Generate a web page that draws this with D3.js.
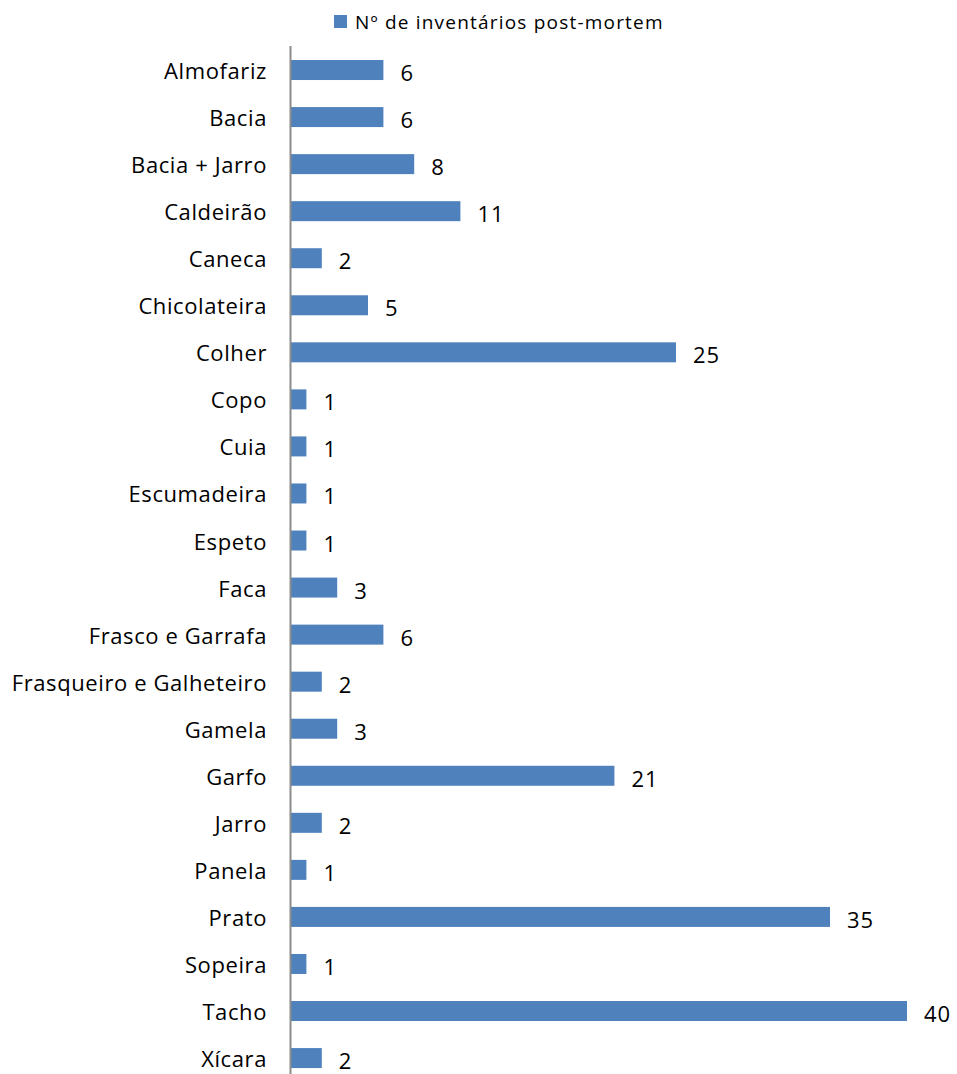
<!DOCTYPE html>
<html>
<head>
<meta charset="utf-8">
<script src="https://cdn.jsdelivr.net/npm/d3@7/dist/d3.min.js"></script>
<style>
  html, body { margin: 0; padding: 0; background: #fff; }
  svg { display: block; }
  text { font-family: "Open Sans", "Noto Sans", sans-serif; fill: #000; }
</style>
</head>
<body>
<svg id="chart" width="957" height="1074"></svg>
<script>
// Utensils recorded in post-mortem inventories
const categories = [
  "Almofariz", "Bacia", "Bacia + Jarro", "Caldeirão", "Caneca", "Chicolateira",
  "Colher", "Copo", "Cuia", "Escumadeira", "Espeto", "Faca", "Frasco e Garrafa",
  "Frasqueiro e Galheteiro", "Gamela", "Garfo", "Jarro", "Panela", "Prato",
  "Sopeira", "Tacho", "Xícara"
];
const counts = [6, 6, 8, 11, 2, 5, 25, 1, 1, 1, 1, 3, 6, 2, 3, 21, 2, 1, 35, 1, 40, 2];
const seriesName = "Nº de inventários post-mortem";
const xMax = 40;

const svg = d3.select("#chart");
const barColor = "#4F81BD";

const x = d3.scaleLinear().domain([0, xMax]).range([291, 907]);
const y = d3.scaleBand()
  .domain(categories)
  .range([46.5, 1081.6])
  .paddingInner(0.575)
  .paddingOuter(0.2875);

// bars
svg.append("g").selectAll("rect")
  .data(categories)
  .join("rect")
  .attr("x", x(0))
  .attr("y", d => y(d))
  .attr("width", (d, i) => x(counts[i]) - x(0))
  .attr("height", y.bandwidth())
  .attr("fill", barColor);

// value labels
svg.append("g").selectAll("text")
  .data(categories)
  .join("text")
  .attr("x", (d, i) => x(counts[i]) + 17)
  .attr("y", d => y(d) + y.bandwidth() / 2 + 11)
  .attr("font-size", 22)
  .attr("letter-spacing", 1)
  .text((d, i) => counts[i]);

// category axis
const yAxis = d3.axisLeft(y).tickSize(0).tickPadding(24);
const gAxis = svg.append("g")
  .attr("transform", `translate(${x(0)},0)`)
  .call(yAxis);
gAxis.select(".domain").remove();
gAxis.selectAll("text")
  .attr("font-size", 22)
  .attr("letter-spacing", 0.6)
  .attr("dy", 9)
  .style("font-family", "'Open Sans', sans-serif")
  .attr("fill", "#000");

svg.append("line")
  .attr("x1", x(0) - 0.5).attr("x2", x(0) - 0.5)
  .attr("y1", 46).attr("y2", 1074)
  .attr("stroke", "#8C8C8C")
  .attr("stroke-width", 2);

// legend
const legend = svg.append("g").attr("transform", "translate(334,15)");
legend.append("rect").attr("width", 13).attr("height", 13).attr("fill", barColor);
legend.append("text")
  .attr("x", 21).attr("y", 13.5)
  .attr("font-size", 19)
  .attr("letter-spacing", 1.2)
  .text(seriesName);
</script>
</body>
</html>
